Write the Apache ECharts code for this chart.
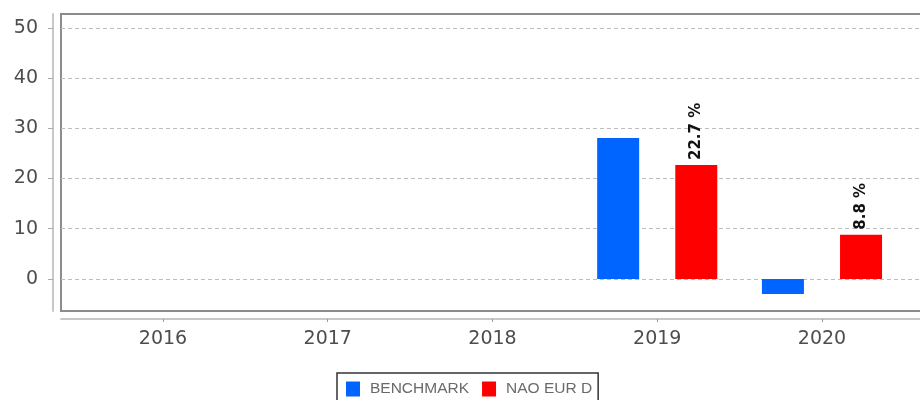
<!DOCTYPE html>
<html>
<head>
<meta charset="utf-8">
<script src="https://cdn.jsdelivr.net/npm/echarts@6/dist/echarts.min.js"></script>
<style>html,body{margin:0;padding:0;background:#fff;}#c{width:920px;height:400px;}</style>
</head>
<body>
<div id="c"></div>
<script>
const categories = ['2016', '2017', '2018', '2019', '2020'];
const benchmark = [null, null, null, 28.1, -3.0];
const naoEurD = [null, null, null, 22.7, 8.8];
const yTicks = [0, 10, 20, 30, 40, 50];
const yMin = -6.4, yMax = 52.8;

const chart = echarts.init(document.getElementById('c'), null, {renderer: 'canvas'});
chart.setOption({
  animation: false,
  backgroundColor: '#fff',
  grid: [
    {left: 61, top: 14, width: 880, bottom: 89, show: true, borderColor: '#8c8c8c', borderWidth: 2, backgroundColor: 'transparent', outerBoundsMode: 'none', containLabel: false},
    {left: 80.6, width: 823.75, top: 14, bottom: 89, outerBoundsMode: 'none', containLabel: false}
  ],
  xAxis: [
    {gridIndex: 0, type: 'value', min: 0, max: 1, offset: 8, position: 'bottom',
     axisLine: {show: true, onZero: false, lineStyle: {color: '#c8c8c8', width: 2}},
     axisTick: {show: false}, axisLabel: {show: false}, splitLine: {show: false}},
    {gridIndex: 1, type: 'category', data: categories, offset: 8, position: 'bottom',
     axisLine: {show: false, onZero: false},
     axisTick: {show: true, alignWithLabel: true, length: 3, inside: false, lineStyle: {color: '#999', width: 1}},
     axisLabel: {fontFamily: 'DejaVu Sans', fontSize: 19, color: '#4d4d4d', margin: 11},
     splitLine: {show: false}}
  ],
  yAxis: [
    {gridIndex: 0, type: 'value', min: yMin, max: yMax, offset: 8, position: 'left',
     axisLine: {show: true, onZero: false, lineStyle: {color: '#c8c8c8', width: 2}},
     axisTick: {show: true, length: 5, inside: false, customValues: yTicks, lineStyle: {color: '#aaa', width: 1}},
     axisLabel: {customValues: yTicks, fontFamily: 'DejaVu Sans', fontSize: 19, color: '#4d4d4d', margin: 15},
     splitLine: {show: true, lineStyle: {color: '#bdbdbd', type: [4, 3], width: 1}}},
    {gridIndex: 1, type: 'value', min: yMin, max: yMax, show: false, splitLine: {show: false}}
  ],
  legend: {
    data: ['BENCHMARK', 'NAO EUR D'],
    left: 337, top: 373,
    icon: 'rect', itemWidth: 14, itemHeight: 15, itemGap: 13,
    padding: [8, 6, 20, 9],
    borderColor: '#333', borderWidth: 1.5, backgroundColor: '#fff',
    textStyle: {fontFamily: 'Liberation Sans', fontSize: 15.5, color: '#6a6a6a', padding: [0, 0, 0, 5]}
  },
  series: [
    {name: 'BENCHMARK', type: 'bar', xAxisIndex: 1, yAxisIndex: 1, data: benchmark,
     barWidth: 42, barGap: '86%', itemStyle: {color: '#0064ff'}},
    {name: 'NAO EUR D', type: 'bar', xAxisIndex: 1, yAxisIndex: 1, data: naoEurD,
     barWidth: 42, barGap: '86%', itemStyle: {color: '#ff0000'},
     label: {show: true, position: 'top', rotate: 90, align: 'left', verticalAlign: 'middle', distance: 5,
             formatter: '{c} %', fontFamily: 'DejaVu Sans', fontWeight: 'bold', fontSize: 15, color: '#111'}}
  ]
});
</script>
</body>
</html>
